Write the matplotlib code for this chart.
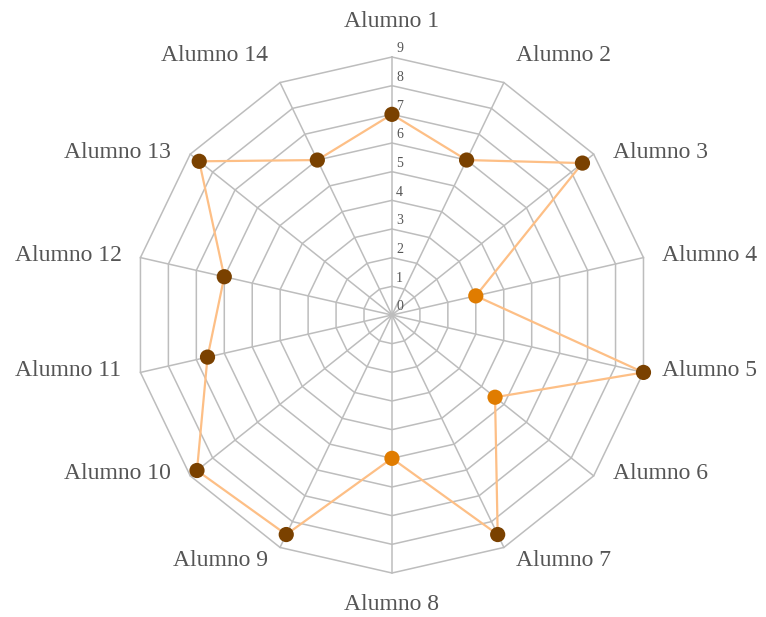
import numpy as np
import matplotlib
matplotlib.use('Agg')
import matplotlib.pyplot as plt

# chart data
alumnos = ['Alumno %d' % i for i in range(1, 15)]
notas = [7, 6, 8.5, 3, 9, 4.6, 8.5, 5, 8.5, 8.7, 6.6, 6, 8.6, 6]
escala = list(range(0, 10))

# colours
grid_color = '#bdbdbd'
line_color = '#fdbf86'
high_color = '#7a4100'
low_color = '#e07c00'
text_color = '#555555'

plt.rcParams['font.family'] = ['Liberation Serif', 'DejaVu Serif']

fig = plt.figure(figsize=(7.66, 6.17), dpi=100)
ax = fig.add_axes([0.1749, 0.0713, 0.6736, 0.8363], projection='polar')
ax.set_theta_zero_location('N')
ax.set_theta_direction(-1)
ax.set_ylim(0, max(escala))
ax.grid(False)
ax.spines['polar'].set_visible(False)
ax.set_xticks([])
ax.set_yticks([])
ax.patch.set_visible(False)

n = len(alumnos)
angles = np.linspace(0, 2 * np.pi, n, endpoint=False)
closed = np.append(angles, angles[0])

# polygon rings and spokes
for k in escala[1:]:
    ax.plot(closed, [k] * (n + 1), color=grid_color, lw=1.1, zorder=1, clip_on=False)
for a in angles:
    ax.plot([a, a], [0, max(escala)], color=grid_color, lw=1.1, zorder=1, clip_on=False)

# scale numbers on the top spoke
for k in escala:
    ax.annotate(str(k), xy=(0, k), xytext=(3, 6), textcoords='offset points',
                ha='left', va='center', fontsize=10, color=text_color)

# data line and points
vals = np.array(notas)
ax.plot(np.append(angles, angles[0]), np.append(vals, vals[0]),
        color=line_color, lw=1.6, zorder=2, clip_on=False)
cols = [high_color if v > 5 else low_color for v in notas]
ax.scatter(angles, vals, s=120, c=cols, zorder=3, clip_on=False, linewidths=0)

# category labels, placed next to the outer ring vertex
rmax = max(escala)
for a, name in zip(angles, alumnos):
    s, c = np.sin(a), np.cos(a)
    if abs(s) < 0.1:
        ha, dx = 'center', 0
        dy = 36 if c > 0 else -32
    else:
        ha = 'left' if s > 0 else 'right'
        if abs(c) > 0.85:
            dx = 12
            dy = 27 if c > 0 else -13
        else:
            dx, dy = 19, 2
        dx = dx if s > 0 else -dx
    ax.annotate(name, xy=(a, rmax), xytext=(dx, dy), textcoords='offset pixels',
                ha=ha, va='center', fontsize=17, color=text_color)

fig.savefig('out.png', dpi=100)
